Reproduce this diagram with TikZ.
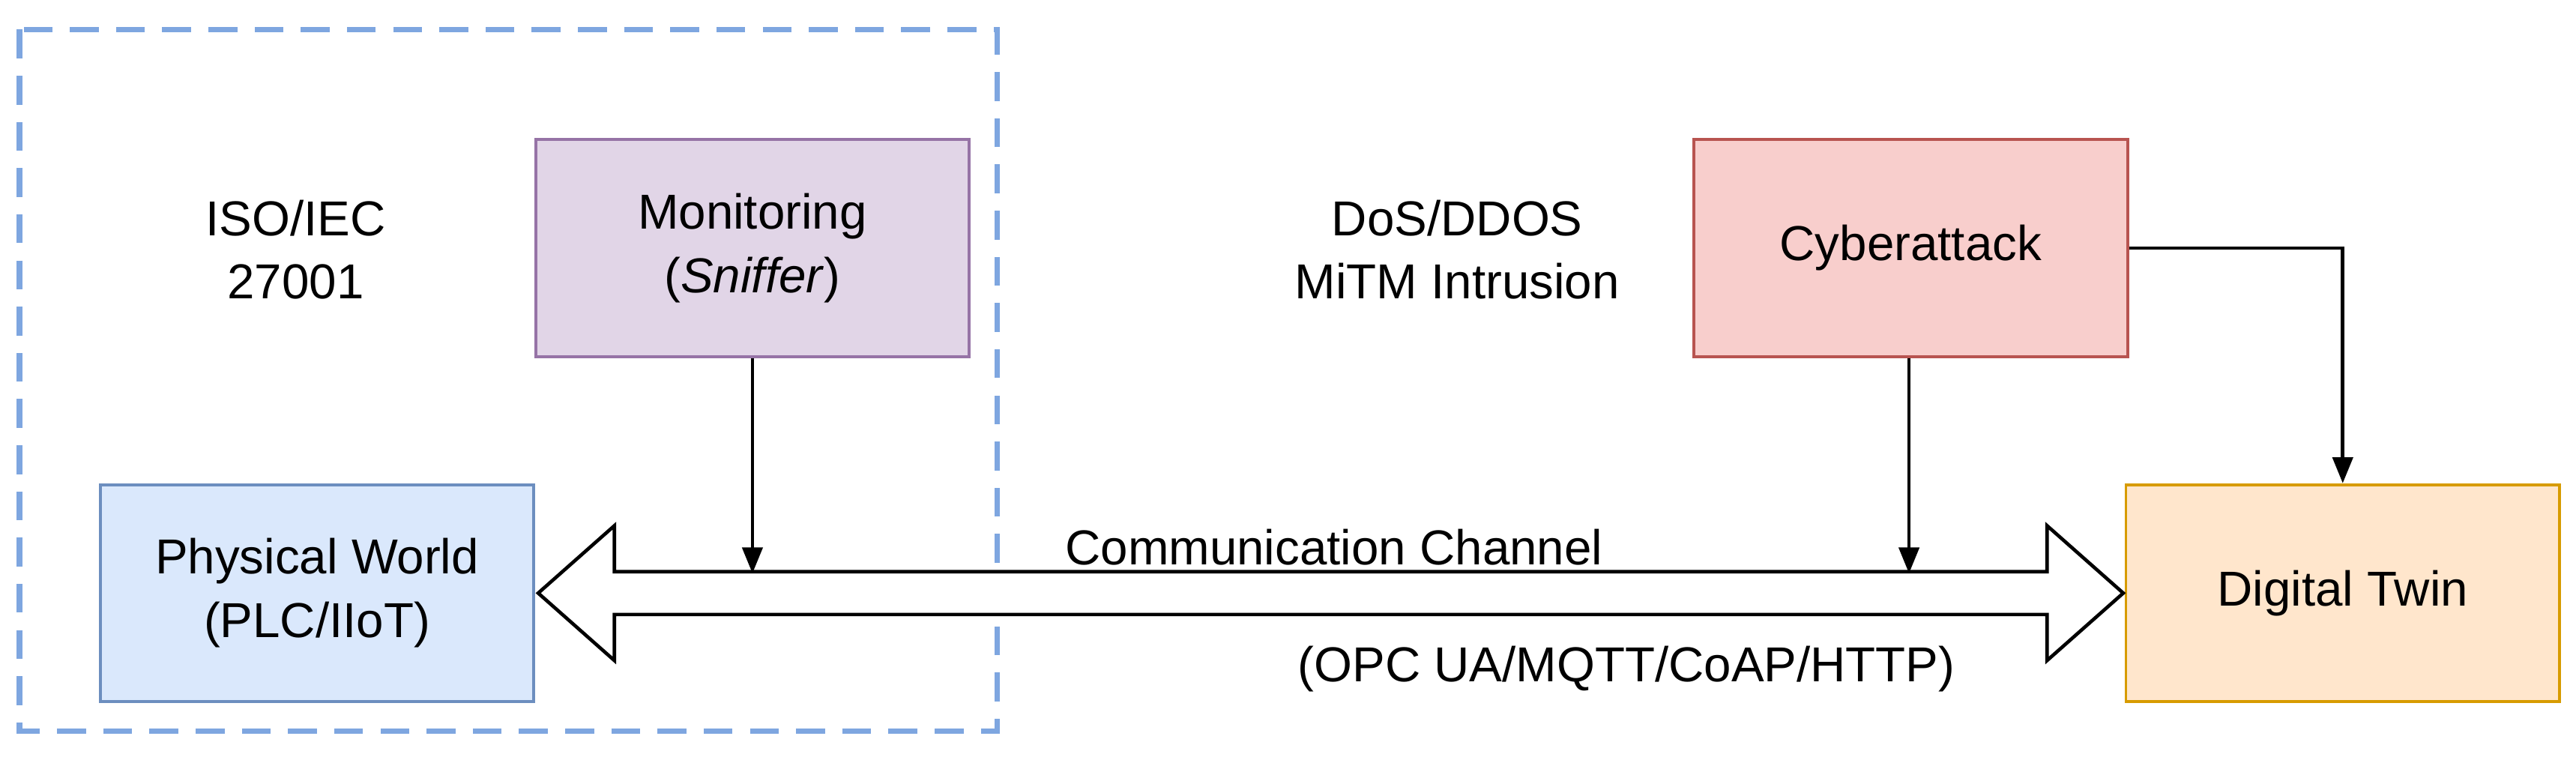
\documentclass[tikz,border=0pt]{standalone}
\usepackage{fontspec}
\setmainfont{Liberation Sans}
\usetikzlibrary{shapes.arrows,arrows.meta}
\definecolor{dashblue}{HTML}{7EA6E0}
\begin{document}
\begin{tikzpicture}
[x=0.02cm, y=-0.02cm,
box/.style={rectangle, draw, line width=1pt, minimum width=5.28cm, minimum height=2.64cm, align=center, font=\fontsize{17}{22}\selectfont},
plain/.style={align=center, font=\fontsize{17}{22}\selectfont},
connect/.style={-{Triangle[length=9pt,width=7pt]}, line width=1.2pt}]
\useasboundingbox (0,0) rectangle (1568,462.2);
\draw[dashblue, line width=2pt, dash pattern=on 10pt off 6pt] (12,18) rectangle (607,445);
\node[plain] (iso) at (180,152) {ISO/IEC\\27001};
\node[plain] (attacks) at (887,152) {DoS/DDOS\\MiTM Intrusion};
\node[box, fill={rgb,255:red,225;green,213;blue,231}, draw={rgb,255:red,150;green,115;blue,166}] (monitor) at (458,151) {Monitoring\\(\textit{Sniffer})};
\node[box, fill={rgb,255:red,248;green,206;blue,204}, draw={rgb,255:red,184;green,84;blue,80}] (cyber) at (1163,151) {Cyberattack};
\node[box, fill={rgb,255:red,218;green,232;blue,252}, draw={rgb,255:red,108;green,142;blue,191}] (physical) at (193,361) {Physical World\\(PLC/IIoT)};
\node[box, fill={rgb,255:red,255;green,230;blue,204}, draw={rgb,255:red,215;green,155;blue,0}] (twin) at (1426,361) {Digital Twin};
\node[double arrow, draw, line width=1.2pt, fill=white, minimum height=19.3cm, minimum width=1.6cm,
  inner xsep=0pt, inner ysep=0.24cm, double arrow head extend=0.56cm, double arrow tip angle=83] (channel) at (810,361) {};
\coordinate (monhit) at (458,349);
\coordinate (cybhit) at (1162,349);
\node[plain] (chlabel) at (812,333) {Communication Channel};
\node[plain] (protocols) at (990,407) {(OPC UA/MQTT/CoAP/HTTP)};
\draw[connect] (monitor.south) -- (monhit);
\draw[connect] (cyber.south -| cybhit) -- (cybhit);
\draw[connect] (cyber.east) -| (twin.north);
\end{tikzpicture}
\end{document}
